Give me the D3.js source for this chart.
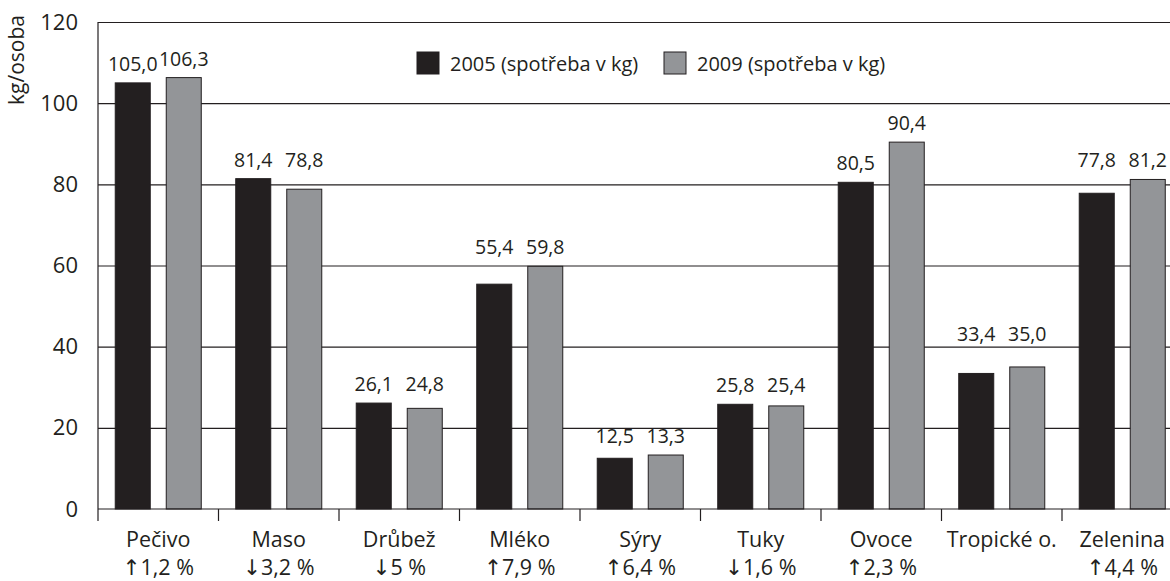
<!DOCTYPE html>
<html>
<head>
<meta charset="utf-8">
<script src="https://cdn.jsdelivr.net/npm/d3@7"></script>
<style>
body { margin: 0; background: #fff; }
text { font-family: "Open Sans", "DejaVu Sans", sans-serif; fill: #231f20; }
</style>
</head>
<body>
<div id="chart"></div>
<script>
// data
const categories = ["Pečivo", "Maso", "Drůbež", "Mléko", "Sýry", "Tuky", "Ovoce", "Tropické o.", "Zelenina"];
const changes = ["\u21911,2 %", "\u21933,2 %", "\u21935 %", "\u21917,9 %", "\u21916,4 %", "\u21931,6 %", "\u21912,3 %", "", "\u21914,4 %"];
const series = ["2005 (spotřeba v kg)", "2009 (spotřeba v kg)"];
const values2005 = [105.0, 81.4, 26.1, 55.4, 12.5, 25.8, 80.5, 33.4, 77.8];
const values2009 = [106.3, 78.8, 24.8, 59.8, 13.3, 25.4, 90.4, 35.0, 81.2];
const yTicks = [0, 20, 40, 60, 80, 100, 120];

const W = 1170, H = 581;
const colors = ["#231f20", "#939598"];
const ink = "#231f20";

const svg = d3.select("#chart").append("svg").attr("width", W).attr("height", H);

// scales
const x = d3.scaleBand().domain(categories).range([98, 1182.5]);
const xs = d3.scaleBand().domain(series).range([0, x.bandwidth()]).paddingInner(0.3137).paddingOuter(0.338);
const y = d3.scaleLinear().domain([0, 120]).range([509, 22]);

const cz = d3.formatLocale({decimal: ",", thousands: " ", grouping: [3], currency: ["", " Kč"]});
const fmt = cz.format(".1f");

// grid lines
const grid = svg.append("g").attr("transform", "translate(98,0)")
  .call(d3.axisLeft(y).tickValues(yTicks.filter(d => d > 0)).tickSize(-(W - 98)).tickFormat(""));
grid.select(".domain").remove();
grid.selectAll("line").attr("stroke", ink).attr("stroke-width", 1.2);

// y axis labels
const yAxis = svg.append("g").attr("transform", "translate(98,0)")
  .call(d3.axisLeft(y).tickValues(yTicks).tickSize(0).tickPadding(20));
yAxis.select(".domain").remove();
yAxis.selectAll("text").style("font-size", "22px").attr("fill", ink);

svg.append("line").attr("x1", 98).attr("x2", 98).attr("y1", y(120)).attr("y2", y(0))
  .attr("stroke", ink).attr("stroke-width", 1.2);

svg.append("text").attr("transform", "translate(24," + 60 + ") rotate(-90)")
  .attr("text-anchor", "middle").style("font-size", "21px").text("kg/osoba");

// bars
const rows = categories.map((c, i) => ({cat: c, vals: [values2005[i], values2009[i]]}));
const groups = svg.selectAll("g.cat").data(rows).enter().append("g")
  .attr("class", "cat").attr("transform", d => "translate(" + x(d.cat) + ",0)");

groups.selectAll("rect").data(d => d.vals.map((v, j) => ({s: series[j], v: v, j: j}))).enter().append("rect")
  .attr("x", d => xs(d.s))
  .attr("y", d => y(d.v))
  .attr("width", xs.bandwidth())
  .attr("height", d => y(0) - y(d.v))
  .attr("fill", d => colors[d.j])
  .attr("stroke", ink)
  .attr("stroke-width", 1);

// value labels: pairs with close values share one baseline
const lift = {"Tropické o.": 14};
groups.each(function(d) {
  const g = d3.select(this);
  const close = Math.abs(d.vals[0] - d.vals[1]) < 5 && d.cat !== "Pečivo";
  d.vals.forEach((v, j) => {
    const top = close ? y(d3.max(d.vals)) : y(v);
    g.append("text")
      .attr("x", xs(series[j]) + xs.bandwidth() / 2)
      .attr("y", top - 12 - (lift[d.cat] || 0))
      .attr("text-anchor", "middle")
      .style("font-size", "19.5px")
      .text(fmt(v));
  });
});

// x axis
svg.append("line").attr("x1", 98).attr("x2", W).attr("y1", y(0)).attr("y2", y(0))
  .attr("stroke", ink).attr("stroke-width", 1.2);
svg.selectAll("line.xtick").data(categories).enter().append("line")
  .attr("class", "xtick")
  .attr("x1", d => x(d)).attr("x2", d => x(d))
  .attr("y1", y(0)).attr("y2", y(0) + 12)
  .attr("stroke", ink).attr("stroke-width", 1.2);

const xAxis = svg.append("g").attr("transform", "translate(0," + y(0) + ")")
  .call(d3.axisBottom(x).tickSize(0).tickPadding(0));
xAxis.select(".domain").remove();
xAxis.selectAll("text").each(function(d, i) {
  const t = d3.select(this).text(null).attr("y", 0).attr("dy", null).style("font-size", "21.5px").attr("fill", ink);
  t.append("tspan").attr("x", 0).attr("y", 38).text(d);
  t.append("tspan").attr("x", 0).attr("y", 66).text(changes[i]);
});

// legend
const legend = svg.append("g").attr("transform", "translate(417,52)");
const item = legend.selectAll("g").data(series).enter().append("g")
  .attr("transform", (d, i) => "translate(" + i * 247 + ",0)");
item.append("rect").attr("width", 22).attr("height", 22)
  .attr("fill", (d, i) => colors[i]).attr("stroke", ink).attr("stroke-width", 1);
item.append("text").attr("x", 33).attr("y", 19).style("font-size", "20px").text(d => d);
</script>
</body>
</html>
